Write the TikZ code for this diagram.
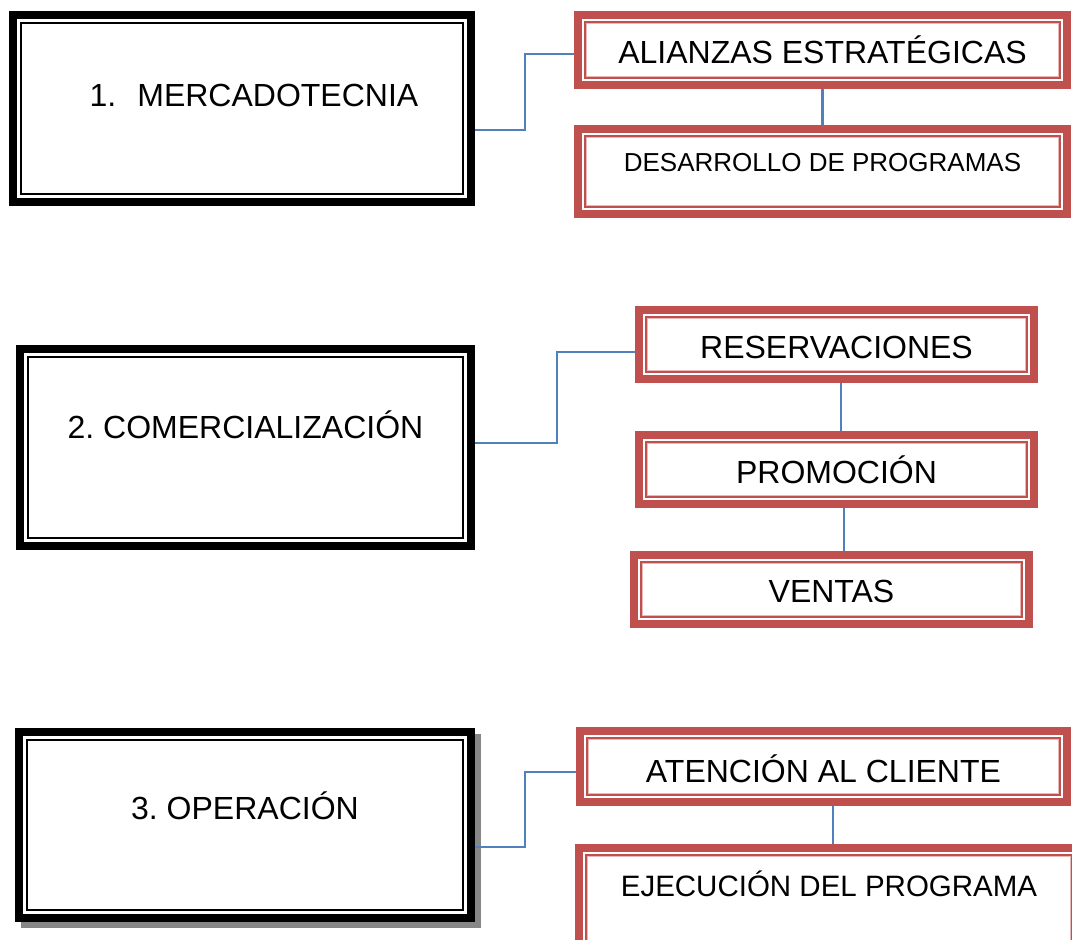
\documentclass[tikz,border=0pt]{standalone}
\usepackage{fontspec}
\setmainfont{Liberation Sans}
\frenchspacing
\definecolor{wred}{HTML}{C0504D}
\definecolor{wpink}{HTML}{E6B9B8}
\definecolor{wblue}{HTML}{4F81BD}
\definecolor{wshadow}{HTML}{878787}
\tikzset{
  blackbox/.style={draw=black, fill=white, line width=8pt, outer sep=4pt, inner sep=0pt, font=\fontsize{32}{38}\selectfont},
  redbox/.style={draw=wred, fill=white, line width=8pt, outer sep=4pt, inner sep=0pt, font=\fontsize{32}{38}\selectfont},
  conn/.style={draw=wblue, line width=2.4pt},
  thinblack/.style={draw=black, line width=2pt},
  thinred/.style={draw=wred, line width=2pt},
  thinpink/.style={draw=wpink, line width=1pt},
}
\newcommand{\blackinner}[1]{%
  \draw[thinblack] ([shift={(12pt,-12pt)}]#1.north west) rectangle ([shift={(-12pt,12pt)}]#1.south east);}
\newcommand{\redinner}[1]{%
  \draw[thinred] ([shift={(11pt,-11pt)}]#1.north west) rectangle ([shift={(-11pt,11pt)}]#1.south east);
  \draw[thinpink] ([shift={(12.5pt,-12.5pt)}]#1.north west) rectangle ([shift={(-12.5pt,12.5pt)}]#1.south east);}
\begin{document}
\begin{tikzpicture}[x=1pt,y=-1pt]
\useasboundingbox (0,0) rectangle (1072,940);
\clip (0,0) rectangle (1072,940);
\fill[white] (0,0) rectangle (1072,940);

% shadow of box 3
\fill[wshadow] (21,734) rectangle (481,928);

% left boxes
\node[blackbox, minimum width=458pt, minimum height=187pt, text height=10pt, text depth=14.1pt] (b1) at (242,108.5) {\hspace{24pt}1.\hspace{21pt}MERCADOTECNIA};
\node[blackbox, minimum width=451pt, minimum height=197pt, text height=5pt, text depth=23.1pt] (b2) at (245.5,447.5) {2. COMERCIALIZACIÓN};
\node[blackbox, minimum width=452pt, minimum height=186pt, text height=5pt, text depth=16.1pt] (b3) at (245,825) {3. OPERACIÓN};
\blackinner{b1}
\blackinner{b2}
\blackinner{b3}

% right boxes
\node[redbox, minimum width=489pt, minimum height=70pt, text height=27.9pt, text depth=0pt] (a1) at (822.5,50) {ALIANZAS ESTRATÉGICAS};
\node[redbox, minimum width=489pt, minimum height=85pt, text height=10.6pt, text depth=10pt, font=\fontsize{26}{31}\selectfont] (d1) at (822.5,171.5) {DESARROLLO DE PROGRAMAS};
\node[redbox, minimum width=395pt, minimum height=69pt, text height=28.9pt, text depth=0pt] (r) at (836.5,344.5) {RESERVACIONES};
\node[redbox, minimum width=395pt, minimum height=69pt, text height=28.9pt, text depth=0pt] (p) at (836.5,469.5) {PROMOCIÓN};
\node[redbox, minimum width=395pt, minimum height=69pt, text height=25.9pt, text depth=0pt] (v) at (831.5,589.5) {VENTAS};
\node[redbox, minimum width=487pt, minimum height=71pt, text height=31.9pt, text depth=0pt] (at) at (823.5,766.5) {ATENCIÓN AL CLIENTE};
\node[redbox, minimum width=500pt, minimum height=108pt, text height=5pt, text depth=15.9pt, font=\fontsize{29.5}{35}\selectfont] (ej) at (829,902) {EJECUCIÓN DEL PROGRAMA};
\redinner{a1}
\redinner{d1}
\redinner{r}
\redinner{p}
\redinner{v}
\redinner{at}
\redinner{ej}

% connectors
\draw[conn] ([yshift=-21.5pt]b1.east) -- ++(50,0) |- ([yshift=-4pt]a1.west);
\draw[conn] (a1.south) -- (d1.north);
\draw[conn] ([yshift=4.5pt]b2.east) -- ++(82,0) |- ([yshift=-7.5pt]r.west);
\draw[conn] ([xshift=4.5pt]r.south) -- ([xshift=4.5pt]r.south |- p.north);
\draw[conn] ([xshift=7.5pt]p.south) -- ([xshift=7.5pt]p.south |- v.north);
\draw[conn] ([yshift=-22pt]b3.east) -- ++(50,0) |- ([yshift=-5.5pt]at.west);
\draw[conn] ([xshift=9.5pt]at.south) -- ([xshift=9.5pt]at.south |- ej.north);
\end{tikzpicture}
\end{document}
